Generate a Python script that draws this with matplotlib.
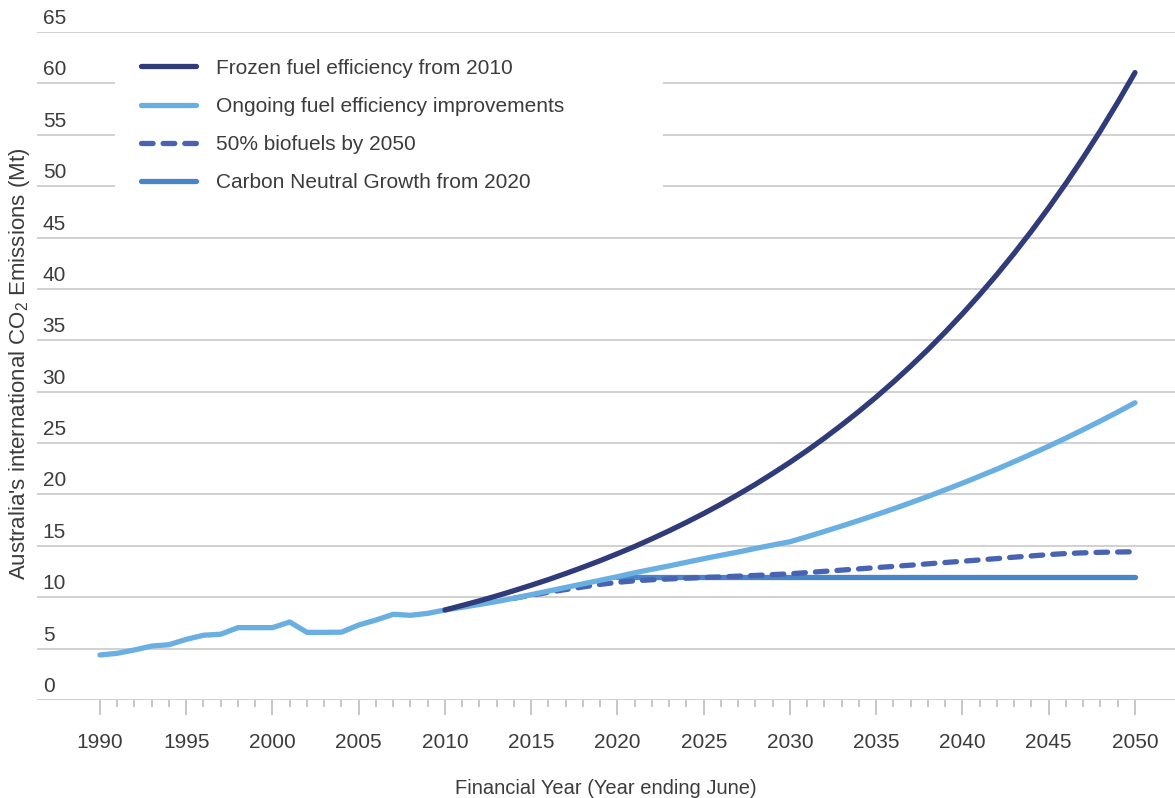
import numpy as np
import matplotlib
matplotlib.use("Agg")
import matplotlib.pyplot as plt
from matplotlib import transforms
from matplotlib.patches import Rectangle
from matplotlib.lines import Line2D

plt.rcParams['font.family'] = ['Liberation Sans', 'DejaVu Sans']
plt.rcParams['mathtext.default'] = 'regular'

# historical emissions (Mt), 1990-2010
hist_years = list(range(1990, 2011))
hist_vals = [4.38, 4.54, 4.87, 5.25, 5.38, 5.90, 6.30, 6.40, 7.04, 7.04, 7.04,
             7.59, 6.58, 6.58, 6.60, 7.30, 7.78, 8.34, 8.24, 8.43, 8.76]

# projections, 2010-2050
proj_years = list(range(2010, 2051))
frozen = [8.76, 9.20, 9.65, 10.13, 10.64, 11.17, 11.72, 12.31, 12.92, 13.56,
          14.24, 14.94, 15.69, 16.47, 17.29, 18.15, 19.05, 20.00, 20.99, 22.04,
          23.13, 24.28, 25.49, 26.76, 28.09, 29.48, 30.95, 32.49, 34.10, 35.80,
          37.58, 39.45, 41.41, 43.47, 45.63, 47.90, 50.28, 52.78, 55.40, 58.16,
          61.05]
ongoing = [8.76, 9.02, 9.30, 9.58, 9.90, 10.25, 10.60, 10.95, 11.30, 11.65,
           12.00, 12.38, 12.72, 13.05, 13.40, 13.75, 14.08, 14.40, 14.75, 15.08,
           15.40, 15.89, 16.40, 16.93, 17.47, 18.03, 18.60, 19.20, 19.81, 20.45,
           21.10, 21.78, 22.47, 23.19, 23.94, 24.70, 25.49, 26.31, 27.15, 28.02,
           28.92]

bio_years = list(range(2014, 2051))
biofuels = [9.90, 10.20, 10.48, 10.75, 11.00, 11.25, 11.45, 11.60, 11.70, 11.78,
            11.85, 11.92, 11.98, 12.05, 12.12, 12.20, 12.28, 12.40, 12.52, 12.64,
            12.76, 12.88, 13.00, 13.12, 13.25, 13.38, 13.50, 13.63, 13.76, 13.90,
            14.02, 14.15, 14.25, 14.32, 14.37, 14.40, 14.42]

cng_years = [2020, 2050]
cng_vals = [12.0, 12.0]

labels = ['Frozen fuel efficiency from 2010',
          'Ongoing fuel efficiency improvements',
          '50% biofuels by 2050',
          'Carbon Neutral Growth from 2020']

c_frozen = '#303b79'
c_ongoing = '#6aafe2'
c_bio = '#4763b2'
c_cng = '#4a86c7'
txt = '#3c3c3c'
grid_c = '#c9c9c9'

fig = plt.figure(figsize=(11.75, 7.98), dpi=100)
ax = fig.add_axes([37 / 1175, 1 - 700 / 798, 1 - 37 / 1175, 668 / 798])

lw = 3.8
ax.plot(cng_years, cng_vals, color=c_cng, lw=lw, solid_capstyle='round', zorder=3)
ax.plot(bio_years, biofuels, color=c_bio, lw=lw, dashes=(2.2, 1.9),
        dash_capstyle='round', zorder=4)
ax.plot(hist_years + proj_years[1:], hist_vals + ongoing[1:], color=c_ongoing,
        lw=lw, solid_capstyle='round', solid_joinstyle='round', zorder=5)
ax.plot(proj_years, frozen, color=c_frozen, lw=lw, solid_capstyle='round', zorder=6)

ax.set_xlim(1986.35, 2052.32)
ax.set_ylim(0, 65)

for s in ax.spines.values():
    s.set_visible(False)

yt = list(range(0, 70, 5))
ax.set_yticks(yt)
ax.tick_params(axis='y', length=0, labelleft=False)
ax.yaxis.grid(True, color=grid_c, lw=1.2, zorder=0)
ax.set_axisbelow(True)

trans = transforms.blended_transform_factory(ax.transAxes, ax.transData)
trans = transforms.offset_copy(trans, fig=fig, y=4, units='dots')
for v in yt:
    ax.text(0.005, v, str(v), transform=trans, ha='left', va='bottom',
            fontsize=15, color=txt)

ax.set_xticks(range(1990, 2051, 5))
ax.set_xticks(range(1990, 2051), minor=True)
ax.tick_params(axis='x', which='major', length=11, width=1.2, color='#bdbdbd',
               pad=13, labelsize=15, labelcolor=txt)
ax.tick_params(axis='x', which='minor', length=5, width=1.2, color='#bdbdbd')

ax.set_xlabel('Financial Year (Year ending June)', fontsize=14.5, color=txt, labelpad=19)
fig.text(20 / 1175, 1 - 364 / 798, "Australia's international CO$_2$ Emissions (Mt)",
         rotation=90, ha='center', va='center', fontsize=16, color=txt)

# white box behind legend hides grid lines
ax.add_patch(Rectangle((0.0685, 0.7186), 0.4815, 0.262, transform=ax.transAxes,
                       facecolor='white', edgecolor='none', zorder=1))

handles = [Line2D([], [], color=c_frozen, lw=lw, solid_capstyle='round'),
           Line2D([], [], color=c_ongoing, lw=lw, solid_capstyle='round'),
           Line2D([], [], color=c_bio, lw=lw, dashes=(2.2, 1.9), dash_capstyle='round'),
           Line2D([], [], color=c_cng, lw=lw, solid_capstyle='round')]
leg = ax.legend(handles, labels, loc='upper left', bbox_to_anchor=(0.0914, 0.960),
                frameon=False, fontsize=15, handlelength=2.64, handletextpad=0.96,
                labelspacing=0.92, borderpad=0, borderaxespad=0)
for t in leg.get_texts():
    t.set_color(txt)

fig.savefig('out.png', dpi=100)
